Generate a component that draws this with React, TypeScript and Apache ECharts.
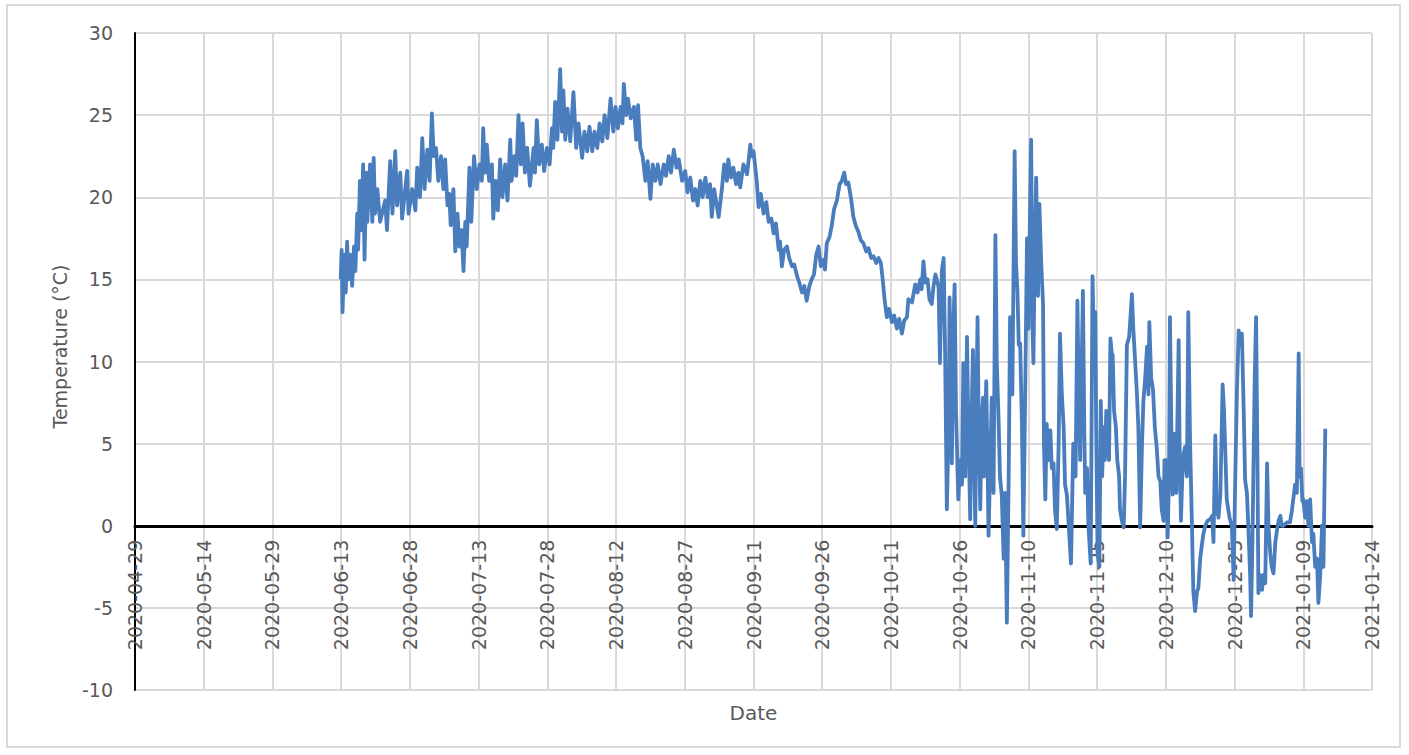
import React, { useEffect, useRef } from "react";
import * as echarts from "echarts";

// Logger readings: [days elapsed since 2020-04-29, temperature °C]
const START_DATE = "2020-04-29";

const readings: [number, number][] = [
  [44.9, 15.0], [45.1, 16.8], [45.3, 13.0], [45.7, 16.5], [46.0, 14.2], [46.3, 17.3], [46.6, 15.0], [47.0, 16.5], [47.4, 14.6], [47.8, 17.0],
  [48.1, 15.5], [48.5, 19.0], [48.7, 16.8], [49.1, 21.0], [49.4, 18.0], [49.8, 22.0], [50.1, 16.2], [50.5, 21.5], [50.7, 18.5], [51.3, 22.0],
  [51.8, 18.5], [52.1, 22.4], [52.4, 19.0], [52.9, 20.5], [53.5, 18.5], [54.6, 19.8], [55.0, 18.0], [55.7, 22.2], [56.2, 19.0], [56.8, 22.8],
  [57.2, 19.5], [57.9, 21.5], [58.3, 18.7], [59.4, 21.6], [59.7, 19.0], [60.5, 20.5], [61.2, 19.2], [61.6, 21.8], [62.2, 20.0], [62.7, 23.6],
  [63.2, 20.5], [63.8, 22.9], [64.3, 21.0], [64.8, 25.1], [65.2, 22.5], [65.7, 23.0], [66.2, 21.0], [66.8, 22.5], [67.3, 20.5], [67.7, 22.3],
  [68.2, 19.5], [68.6, 20.2], [68.9, 18.3], [69.5, 20.5], [69.9, 16.7], [70.4, 19.0], [70.8, 17.0], [71.3, 18.0], [71.7, 15.5], [72.1, 18.5],
  [72.4, 17.0], [73.0, 21.8], [73.4, 18.5], [74.0, 22.5], [74.6, 20.5], [75.2, 22.0], [75.7, 21.0], [76.0, 24.2], [76.4, 21.5], [76.8, 23.2],
  [77.3, 21.0], [77.9, 22.0], [78.2, 18.7], [78.7, 21.0], [79.2, 19.2], [79.7, 22.3], [80.2, 20.0], [80.8, 22.0], [81.3, 19.8], [81.9, 23.5],
  [82.2, 21.0], [82.8, 22.5], [83.2, 21.3], [83.7, 25.0], [84.2, 22.0], [84.6, 24.5], [85.1, 21.5], [85.6, 23.0], [86.2, 20.7], [87.0, 23.0],
  [87.3, 21.5], [87.7, 24.7], [88.2, 22.0], [88.8, 23.2], [89.3, 21.6], [89.9, 23.0], [90.5, 22.0], [91.0, 24.2], [91.3, 23.0], [91.7, 25.8],
  [92.2, 23.5], [92.8, 27.8], [93.2, 24.0], [93.5, 26.5], [93.9, 23.5], [94.4, 25.4], [95.0, 23.4], [95.7, 26.4], [96.3, 23.0], [96.8, 24.5],
  [97.6, 22.4], [98.1, 24.0], [98.7, 22.8], [99.2, 24.3], [99.8, 22.8], [100.3, 24.0], [100.9, 23.0], [101.4, 24.5], [102.0, 23.4], [102.5, 25.0],
  [103.1, 23.6], [103.8, 26.0], [104.4, 24.0], [104.9, 25.5], [105.4, 24.2], [106.0, 25.5], [106.4, 24.5], [106.7, 26.9], [107.2, 25.0], [107.6, 26.0],
  [108.2, 24.8], [108.9, 25.5], [109.4, 23.5], [109.8, 25.6], [110.3, 23.0], [110.8, 22.5], [111.4, 21.0], [111.9, 22.2], [112.5, 19.9], [113.0, 22.0],
  [113.6, 21.0], [114.1, 22.0], [114.7, 20.8], [115.4, 22.0], [115.9, 21.3], [116.5, 22.5], [117.0, 21.5], [117.6, 22.9], [118.2, 21.8], [118.7, 22.3],
  [119.4, 21.0], [120.1, 21.6], [120.6, 20.3], [121.2, 21.2], [121.8, 19.8], [122.3, 20.5], [122.8, 19.5], [123.4, 21.0], [123.9, 20.0], [124.5, 21.2],
  [125.0, 20.0], [125.5, 20.8], [125.9, 18.8], [126.4, 20.5], [127.0, 19.5], [127.4, 18.8], [128.1, 20.5], [128.6, 22.0], [129.2, 21.0], [129.5, 22.3],
  [130.1, 21.2], [130.6, 21.8], [131.2, 20.8], [131.7, 21.5], [132.1, 20.6], [132.8, 22.0], [133.6, 21.4], [134.3, 23.2], [134.6, 22.5], [135.0, 22.8],
  [135.7, 21.0], [136.1, 19.4], [136.6, 20.2], [137.2, 19.0], [137.8, 19.7], [138.3, 18.5], [138.9, 18.7], [139.4, 17.8], [139.9, 18.4], [140.5, 16.8],
  [140.8, 17.3], [141.2, 15.8], [141.7, 16.8], [142.3, 17.0], [142.8, 16.3], [143.4, 15.8], [143.9, 15.9], [144.5, 15.2], [145.0, 14.8], [145.6, 14.2],
  [146.1, 14.6], [146.6, 13.7], [147.2, 14.6], [147.7, 15.0], [148.2, 15.3], [148.7, 16.5], [149.2, 17.0], [149.7, 15.8], [150.3, 16.2], [150.6, 15.6],
  [151.0, 17.2], [151.6, 17.6], [152.1, 18.3], [152.6, 19.3], [153.2, 19.8], [153.8, 20.8], [154.3, 21.0], [154.8, 21.5], [155.2, 20.8], [155.7, 20.9],
  [156.3, 19.9], [156.8, 18.8], [157.4, 18.2], [157.9, 17.9], [158.4, 17.4], [159.0, 17.2], [159.6, 16.7], [160.1, 16.9], [160.7, 16.3], [161.2, 16.4],
  [161.8, 16.0], [162.3, 16.3], [162.8, 16.0], [163.2, 15.0], [163.6, 13.8], [164.1, 12.7], [164.6, 13.2], [165.2, 12.4], [165.7, 12.8], [166.3, 12.0],
  [166.8, 12.6], [167.4, 11.7], [167.9, 12.5], [168.5, 12.7], [168.8, 13.8], [169.6, 13.6], [170.3, 14.7], [170.8, 14.2], [171.4, 15.0], [171.7, 14.4],
  [172.1, 16.1], [172.5, 14.8], [173.0, 15.0], [173.4, 13.8], [173.9, 13.5], [174.3, 14.6], [174.7, 15.3], [175.0, 15.0], [175.4, 14.5], [175.7, 9.9],
  [176.1, 15.5], [176.5, 16.3], [176.8, 11.0], [177.2, 1.0], [177.6, 6.0], [177.8, 13.9], [178.1, 8.0], [178.3, 3.8], [178.6, 12.0], [178.9, 14.7],
  [179.2, 7.0], [179.7, 1.6], [180.1, 4.0], [180.5, 2.5], [180.8, 9.9], [181.2, 3.0], [181.6, 11.5], [181.9, 6.0], [182.3, 0.4], [182.7, 8.0],
  [182.9, 10.7], [183.2, 4.0], [183.4, 0.0], [183.6, 6.0], [183.9, 12.7], [184.2, 5.0], [184.5, 1.0], [184.8, 6.5], [185.1, 7.8], [185.3, 3.0],
  [185.8, 8.8], [186.1, 3.5], [186.3, -0.6], [186.7, 4.0], [187.0, 7.8], [187.4, 2.0], [187.8, 17.7], [188.1, 10.0], [188.5, 6.4], [188.8, 3.0],
  [189.2, 1.8], [189.6, -2.0], [189.9, 2.0], [190.3, -5.9], [190.7, 3.0], [191.0, 12.7], [191.5, 8.0], [192.0, 22.8], [192.3, 16.0], [192.6, 14.3],
  [192.9, 11.0], [193.2, 11.1], [193.6, 6.0], [193.9, -0.6], [194.3, 8.0], [194.7, 17.5], [195.0, 12.0], [195.4, 20.0], [195.6, 23.5], [195.9, 12.0],
  [196.1, 9.9], [196.4, 17.0], [196.7, 21.2], [197.1, 14.0], [197.4, 19.6], [197.8, 16.0], [198.2, 13.5], [198.4, 5.0], [198.7, 1.6], [199.0, 6.2],
  [199.4, 4.0], [199.8, 5.8], [200.1, 3.5], [200.5, 3.8], [200.8, 1.0], [201.2, -0.2], [201.6, 5.0], [201.9, 11.7], [202.3, 8.0], [202.7, 6.0],
  [203.0, 2.5], [203.4, 1.9], [204.3, -2.3], [204.8, 5.0], [205.3, 3.0], [205.7, 13.7], [206.0, 8.0], [206.3, 4.0], [206.9, 14.3], [207.2, 6.0],
  [207.4, 2.0], [207.8, 3.5], [208.1, 0.0], [208.6, -2.3], [209.0, 15.2], [209.3, 11.0], [209.6, 13.0], [209.8, 6.0], [210.1, -1.7], [210.5, -2.5],
  [210.8, 7.6], [211.1, 3.0], [211.4, 6.0], [211.7, 4.0], [212.0, 7.0], [212.3, 5.5], [212.6, 4.0], [212.9, 11.4], [213.2, 10.5], [213.4, 10.4],
  [213.7, 7.0], [214.1, 6.0], [214.4, 4.0], [214.8, 3.0], [215.0, 1.0], [215.4, 0.3], [215.8, -0.1], [216.1, 3.0], [216.5, 11.0], [217.0, 11.5],
  [217.6, 14.1], [217.9, 12.0], [218.3, 10.0], [218.7, 8.0], [219.0, 6.0], [219.4, -0.1], [219.8, 5.0], [220.1, 7.6], [220.5, 9.0], [220.9, 10.9],
  [221.2, 8.0], [221.4, 12.4], [221.8, 9.0], [222.2, 8.3], [222.6, 6.0], [223.0, 4.8], [223.4, 3.0], [223.8, 2.7], [224.1, 1.0], [224.5, 0.3],
  [224.7, 4.0], [224.9, 2.0], [225.1, 4.0], [225.4, -0.7], [225.7, 3.0], [225.9, 12.7], [226.2, 6.0], [226.5, 1.9], [226.8, 5.0], [227.0, 5.6],
  [227.3, 2.0], [227.5, 6.0], [227.8, 11.3], [228.0, 5.0], [228.3, 0.3], [228.6, 3.0], [228.9, 4.4], [229.2, 4.8], [229.6, 3.0], [229.9, 13.0],
  [230.3, 5.0], [230.7, 0.0], [231.0, -4.0], [231.4, -5.2], [231.8, -4.0], [232.1, -3.8], [232.5, -2.0], [232.9, -1.1], [233.2, -0.5], [233.6, 0.0],
  [234.1, 0.3], [234.7, 0.4], [235.1, 0.6], [235.4, -1.0], [235.8, 5.5], [236.1, 1.0], [236.5, 0.5], [236.9, 1.9], [237.4, 8.6], [237.7, 7.0],
  [238.3, 1.6], [238.9, 0.5], [239.4, 0.0], [239.8, -3.3], [240.1, 2.0], [240.5, 8.0], [240.9, 11.9], [241.2, 11.0], [241.6, 11.7], [242.0, 7.0],
  [242.3, 2.8], [242.7, 2.0], [243.0, 0.0], [243.4, -3.0], [243.6, -5.5], [243.9, -1.0], [244.1, 3.0], [244.4, 9.0], [244.7, 12.7], [245.0, 4.0],
  [245.2, -4.1], [245.6, -3.0], [246.0, -3.9], [246.3, -3.0], [246.7, -3.5], [247.1, 3.8], [247.4, 0.0], [247.8, -1.7], [248.1, -2.5], [248.5, -2.9],
  [248.9, -1.0], [249.2, -0.4], [249.6, 0.3], [250.0, 0.6], [250.3, 0.0], [250.7, 0.0], [251.4, 0.2], [252.1, 0.2], [252.5, 0.9], [252.9, 1.8],
  [253.2, 2.5], [253.6, 2.0], [254.0, 10.5], [254.2, 3.0], [254.5, 3.5], [254.8, 1.5], [255.0, 1.6], [255.4, 0.5], [255.8, 1.5], [256.1, 0.0],
  [256.5, 1.6], [256.9, -1.0], [257.2, -0.5], [257.6, -2.5], [258.0, -2.0], [258.3, -4.7], [258.7, -3.0], [259.1, 0.0], [259.4, -2.5], [259.8, 5.9],
];

const X_MIN_DAYS = 0;
const X_MAX_DAYS = 270;
const X_STEP_DAYS = 15;
const Y_MIN = -10;
const Y_MAX = 30;
const Y_STEP = 5;

const X_TITLE = "Date";
const Y_TITLE = "Temperature (°C)";

const DAY_MS = 86400000;
const startMs = Date.parse(START_DATE + "T00:00:00Z");
const dayToLabel = (v: number) => new Date(startMs + v * DAY_MS).toISOString().slice(0, 10);

const GRAY = "#595959";
const FONT = "DejaVu Sans";

// Layout of the plot area (pixels)
const GRID_TOP = 33;
const GRID_BOTTOM = 65;
const PLOT_HEIGHT = 755 - GRID_TOP - GRID_BOTTOM;
// the date axis sits on the 0 °C line
const ZERO_OFFSET = -(PLOT_HEIGHT * (0 - Y_MIN)) / (Y_MAX - Y_MIN);

export default function App() {
  const ref = useRef<HTMLDivElement>(null);
  useEffect(() => {
    if (!ref.current) return;
    const chart = echarts.init(ref.current, undefined, { renderer: "svg" });
    chart.setOption({
      animation: false,
      backgroundColor: "#ffffff",
      grid: {
        left: 135,
        right: 37,
        top: GRID_TOP,
        bottom: GRID_BOTTOM,
        containLabel: false,
        outerBoundsMode: "none",
      },
      graphic: [
        {
          type: "rect",
          silent: true,
          shape: { x: 7, y: 5, width: 1393, height: 742 },
          style: { fill: "transparent", stroke: "#d9d9d9", lineWidth: 2 },
        },
      ],
      xAxis: {
        type: "value",
        min: X_MIN_DAYS,
        max: X_MAX_DAYS,
        interval: X_STEP_DAYS,
        offset: ZERO_OFFSET,
        name: X_TITLE,
        nameLocation: "middle",
        nameGap: 177,
        nameTextStyle: { color: GRAY, fontFamily: FONT, fontSize: 20, verticalAlign: "top" },
        axisLine: { onZero: false, lineStyle: { color: "#000000", width: 3 } },
        axisTick: { show: false },
        axisLabel: {
          rotate: 90,
          margin: 14,
          color: GRAY,
          fontFamily: FONT,
          fontSize: 19,
          showMinLabel: true,
          showMaxLabel: true,
          formatter: (v: number) => dayToLabel(v),
        },
        splitLine: { show: true, lineStyle: { color: "#d9d9d9", width: 2 } },
      },
      yAxis: {
        type: "value",
        min: Y_MIN,
        max: Y_MAX,
        interval: Y_STEP,
        name: Y_TITLE,
        nameLocation: "middle",
        nameRotate: 90,
        nameGap: 66,
        nameTextStyle: { color: GRAY, fontFamily: FONT, fontSize: 19, padding: [0, 0, 0, 30] },
        axisLine: { show: true, onZero: false, lineStyle: { color: "#000000", width: 2 } },
        axisTick: { show: false },
        axisLabel: { margin: 22, color: GRAY, fontFamily: FONT, fontSize: 19 },
        splitLine: { show: true, lineStyle: { color: "#d9d9d9", width: 2 } },
      },
      series: [
        {
          type: "line",
          data: readings,
          showSymbol: false,
          symbol: "none",
          lineStyle: { color: "#4a7dbd", width: 3.8, join: "round" },
          itemStyle: { color: "#4a7dbd" },
          z: 3,
        },
      ],
    });
    return () => chart.dispose();
  }, []);
  return (
    <div
      ref={ref}
      style={{ position: "absolute", left: 0, top: 0, width: 1409, height: 755, background: "#ffffff" }}
    />
  );
}
